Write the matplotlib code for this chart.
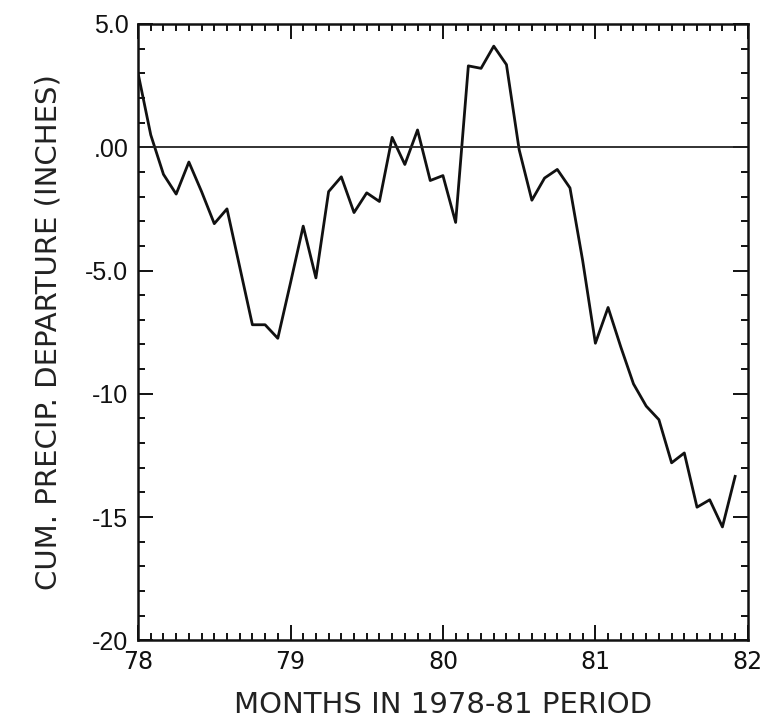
import matplotlib
matplotlib.use("Agg")
import matplotlib.pyplot as plt
import numpy as np
from matplotlib.ticker import MultipleLocator

# cumulative precipitation departure, one value per month, Jan 1978 .. Dec 1981
months = np.arange(48)
departure = [3.0, 0.5, -1.1, -1.9, -0.6, -1.8, -3.1, -2.5, -4.85, -7.2, -7.2, -7.75,
             -5.5, -3.2, -5.3, -1.8, -1.2, -2.65, -1.85, -2.2, 0.4, -0.7, 0.7, -1.35,
             -1.15, -3.05, 3.3, 3.2, 4.1, 3.35, -0.1, -2.15, -1.25, -0.9, -1.65, -4.6,
             -7.95, -6.5, -8.1, -9.6, -10.5, -11.05, -12.8, -12.4, -14.6, -14.3, -15.4, -13.35]
years = 78 + months / 12.0

ytick_vals = [5, 0, -5, -10, -15, -20]
ytick_labels = ["5.0", ".00", "-5.0", "-10", "-15", "-20"]
xtick_vals = [78, 79, 80, 81, 82]
xtick_labels = ["78", "79", "80", "81", "82"]

narrow = ["Liberation Sans Narrow", "DejaVu Sans"]

fig = plt.figure(figsize=(7.67, 7.26), dpi=100)
ax = fig.add_axes([0.18, 0.118, 0.795, 0.849])

ax.plot(years, departure, color="#111111", lw=2.0)
ax.axhline(0, color="#222222", lw=1.3)

ax.set_xlim(78, 82)
ax.set_ylim(-20, 5)

ax.set_xticks(xtick_vals)
ax.set_xticklabels(xtick_labels, family=narrow, fontsize=17)
ax.set_yticks(ytick_vals)
ax.set_yticklabels(ytick_labels, family=["Liberation Sans", "DejaVu Sans"], fontsize=18)
ax.xaxis.set_minor_locator(MultipleLocator(1 / 12.0))
ax.yaxis.set_minor_locator(MultipleLocator(1))

ax.tick_params(which="both", direction="in", top=True, right=True, colors="#111111")
ax.tick_params(which="major", length=11, width=1.4, pad=7)
ax.tick_params(which="minor", length=5, width=1.4)

for s in ax.spines.values():
    s.set_linewidth(1.8)
    s.set_color("#111111")

ax.set_xlabel("MONTHS IN 1978-81 PERIOD", family=narrow, fontsize=21, color="#222222", labelpad=12)
ax.set_ylabel("CUM. PRECIP. DEPARTURE (INCHES)", family=narrow, fontsize=21, color="#222222", labelpad=16)

fig.savefig("out.png", dpi=100)
